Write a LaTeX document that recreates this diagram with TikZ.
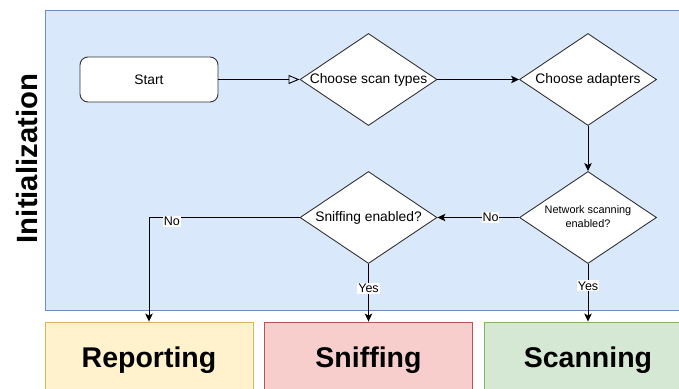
\documentclass[tikz,border=0pt]{standalone}
\usepackage{fontspec}
\setmainfont{Liberation Sans}
\usetikzlibrary{shapes.geometric,arrows.meta}
\definecolor{laneblue}{HTML}{DAE8FC}
\definecolor{laneblueline}{HTML}{6C8EBF}
\definecolor{laneyellow}{HTML}{FFF2CC}
\definecolor{laneyellowline}{HTML}{D6B656}
\definecolor{lanered}{HTML}{F8CECC}
\definecolor{laneredline}{HTML}{B85450}
\definecolor{lanegreen}{HTML}{D5E8D4}
\definecolor{lanegreenline}{HTML}{82B366}
\definecolor{shapeline}{HTML}{333333}
\begin{document}
\begin{tikzpicture}[x=1pt,y=-1pt,
  every node/.style={font=\fontsize{13.8}{16}\selectfont, text=black},
  startbox/.style={rectangle, rounded corners=8pt, draw=shapeline, fill=white,
    line width=0.9pt, minimum width=138pt, minimum height=45pt, inner sep=0pt},
  dia/.style={diamond, draw=shapeline, fill=white, line width=0.9pt,
    minimum width=137pt, minimum height=92pt, inner sep=0pt},
  flow/.style={draw=black, line width=0.9pt,
    -{Stealth[length=8pt,width=7.5pt,inset=2pt]}},
  lbl/.style={fill=white, inner sep=1pt, font=\fontsize{12.5}{14}\selectfont},
  lane/.style={rectangle, line width=0.9pt, minimum width=208pt,
    minimum height=70.8pt, inner sep=0pt, text height=20.4pt, text depth=0pt,
    font=\bfseries\fontsize{28.5}{32}\selectfont}
]
\useasboundingbox (0,0) rectangle (679,388);
\clip (0,0) rectangle (679,388);

% initialization pool
\node[draw=laneblueline, fill=laneblue, line width=0.9pt, anchor=north west,
      minimum width=660pt, minimum height=300pt, inner sep=0pt] (init) at (45,10) {};
\node[rotate=90, anchor=base, font=\bfseries\fontsize{29.3}{32}\selectfont]
      (inittitle) at (37,158.5) {Initialization};

% process steps
\node[startbox] (start) at (149,79.5) {Start};
\node[dia] (types) at (368.5,79.5) {\makebox[0pt]{Choose scan types}};
\node[dia] (adapt) at (588,79.5) {\makebox[0pt]{Choose adapters}};
\node[dia] (net) at (588,217.5)
  {\makebox[0pt]{\fontsize{10.9}{13.7}\selectfont\begin{tabular}{@{}c@{}}Network scanning\\enabled?\end{tabular}}};
\node[dia] (sniff) at (368.5,217.5) {\makebox[0pt]{Sniffing enabled?}};

% phase lanes
\node[lane, fill=laneyellow, draw=laneyellowline] (rep) at (149,357.4) {Reporting};
\node[lane, fill=lanered, draw=laneredline] (sniffl) at (368.5,357.4) {Sniffing};
\node[lane, fill=lanegreen, draw=lanegreenline] (scan) at (588,357.4) {Scanning};

% connectors
\draw[flow, -{Triangle[open, length=11pt, width=9pt]}] (start) -- (types);
\draw[flow] (types) -- (adapt);
\draw[flow] (adapt) -- (net);
\draw[flow] (net) -- node[lbl, pos=0.35] {No} (sniff);
\draw[flow] (sniff.west) -| node[lbl, pos=0.424, yshift=-4pt] {No} (rep.north);
\draw[flow] (sniff) -- node[lbl, pos=0.43] {Yes} (sniffl);
\draw[flow] (net) -- node[lbl, pos=0.38] {Yes} (scan);
\end{tikzpicture}
\end{document}
